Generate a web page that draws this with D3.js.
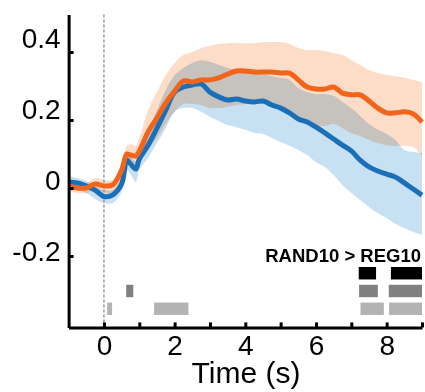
<!DOCTYPE html>
<html lang="en">
  <head>
    <meta charset="UTF-8" />
    <title>RAND10 vs REG10</title>
    <style>
      body { margin: 0; background: #fff; }
      svg { display: block; font-family: "Liberation Sans", Arial, Helvetica, sans-serif; }
      .band { mix-blend-mode: multiply; }
    </style>
  </head>

  <body>
    <main></main>

  <script src="https://d3js.org/d3.v7.min.js"></script>
    <script>

var w = 425;
var h = 392;

// time points (s)
var times = [-1, -0.75, -0.5, -0.25, 0, 0.25, 0.5, 0.65, 0.75, 0.9,
  1, 1.25, 1.5, 1.75, 2, 2.25, 2.5, 2.75, 3, 3.25, 3.5, 3.75, 4, 4.25, 4.5, 4.75,
  5, 5.25, 5.5, 5.75, 6, 6.25, 6.5, 6.75, 7, 7.25, 7.5, 7.75, 8, 8.25, 8.5, 8.75, 9];

// blue series (mean, upper, lower)
var blueMean = [0.018, 0.015, 0.006, -0.006, -0.025, -0.02, 0.012, 0.082, 0.071, 0.056,
  0.085, 0.126, 0.176, 0.229, 0.282, 0.297, 0.303, 0.306, 0.282, 0.268, 0.259, 0.262, 0.256, 0.253, 0.256, 0.244,
  0.235, 0.221, 0.203, 0.194, 0.179, 0.162, 0.144, 0.126, 0.109, 0.082, 0.062, 0.05, 0.041, 0.032, 0.015, -0.003, -0.021];
var blueUpper = [0.035, 0.029, 0.021, 0.006, -0.006, -0.006, 0.032, 0.106, 0.094, 0.079,
  0.115, 0.171, 0.229, 0.288, 0.332, 0.353, 0.368, 0.376, 0.371, 0.362, 0.353, 0.347, 0.341, 0.338, 0.335, 0.329,
  0.324, 0.318, 0.294, 0.282, 0.276, 0.276, 0.271, 0.253, 0.235, 0.212, 0.188, 0.171, 0.159, 0.141, 0.112, 0.106, 0.103];
var blueLower = [0, -0.006, -0.015, -0.032, -0.044, -0.044, -0.012, 0.053, 0.041, 0.018,
  0.053, 0.088, 0.132, 0.176, 0.224, 0.235, 0.235, 0.224, 0.209, 0.197, 0.185, 0.179, 0.171, 0.162, 0.159, 0.147,
  0.135, 0.124, 0.112, 0.097, 0.076, 0.062, 0.038, 0.009, -0.015, -0.035, -0.056, -0.074, -0.088, -0.106, -0.118, -0.129, -0.138];

// orange series (mean, upper, lower)
var orangeMean = [0.006, 0, 0, 0.012, 0.006, 0.009, 0.053, 0.1, 0.097, 0.094,
  0.108, 0.165, 0.206, 0.25, 0.285, 0.315, 0.312, 0.318, 0.318, 0.324, 0.335, 0.344, 0.344, 0.341, 0.341, 0.341,
  0.338, 0.338, 0.318, 0.297, 0.291, 0.291, 0.297, 0.279, 0.274, 0.274, 0.256, 0.235, 0.221, 0.221, 0.224, 0.218, 0.194];
var orangeUpper = [0.021, 0.015, 0.015, 0.029, 0.024, 0.024, 0.074, 0.124, 0.129, 0.124,
  0.147, 0.229, 0.282, 0.332, 0.368, 0.391, 0.4, 0.412, 0.418, 0.424, 0.426, 0.426, 0.426, 0.426, 0.429, 0.429,
  0.429, 0.424, 0.412, 0.406, 0.406, 0.403, 0.397, 0.391, 0.376, 0.362, 0.347, 0.338, 0.332, 0.329, 0.324, 0.318, 0.312];
var orangeLower = [-0.009, -0.015, -0.015, -0.006, -0.012, -0.018, 0.032, 0.071, 0.065, 0.065,
  0.076, 0.112, 0.147, 0.188, 0.224, 0.247, 0.247, 0.244, 0.235, 0.235, 0.238, 0.244, 0.247, 0.247, 0.247, 0.241,
  0.229, 0.218, 0.2, 0.188, 0.182, 0.182, 0.188, 0.176, 0.162, 0.153, 0.141, 0.132, 0.126, 0.124, 0.124, 0.121, 0.094];

// significance bars: [start, end] in s, one list per row
var sigBlack = [[7.21, 7.7], [8.12, 9]];
var sigDark = [[0.63, 0.83], [7.22, 7.75], [8.06, 9]];
var sigLight = [[0.09, 0.23], [1.42, 2.39], [7.26, 7.92], [8.07, 9]];

var xTicks = [0, 1, 2, 3, 4, 5, 6, 7, 8, 9];
var yTicks = [-0.2, 0, 0.2, 0.4];

var svg = d3.select("main").append("svg")
            .attr("width", w)
            .attr("height", h);

var x = d3.scaleLinear().domain([-1, 9]).range([68.6, 422]);
var y = d3.scaleLinear().domain([-0.41, 0.51]).range([327.4, 14.6]);
// the tick labels sit a little off their ticks in the original
var yLab = d3.scaleLinear().domain([-0.2, 0.4]).range([252, 39]);

var pts = times.map(function(t, i) {
  return { t: t, bm: blueMean[i], bu: blueUpper[i], bl: blueLower[i],
           om: orangeMean[i], ou: orangeUpper[i], ol: orangeLower[i] };
});

var bandCurve = d3.curveCatmullRom.alpha(0.5);

var blueArea = d3.area()
                 .x(function(d) { return x(d.t); })
                 .y0(function(d) { return y(d.bl); })
                 .y1(function(d) { return y(d.bu); })
                 .curve(bandCurve);
var orangeArea = d3.area()
                   .x(function(d) { return x(d.t); })
                   .y0(function(d) { return y(d.ol); })
                   .y1(function(d) { return y(d.ou); })
                   .curve(bandCurve);

svg.append("path").datum(pts)
   .attr("class", "band")
   .attr("d", blueArea)
   .attr("fill", "#c8e1f2");
svg.append("path").datum(pts)
   .attr("class", "band")
   .attr("d", orangeArea)
   .attr("fill", "#fddcc8");

// stimulus onset
svg.append("line")
   .attr("x1", x(0)).attr("x2", x(0))
   .attr("y1", y(0.51)).attr("y2", y(-0.41))
   .attr("stroke", "#999")
   .attr("stroke-width", 1.5)
   .attr("stroke-dasharray", "3,2");

var blueLine = d3.line()
                 .x(function(d) { return x(d.t); })
                 .y(function(d) { return y(d.bm); })
                 .curve(bandCurve);
var orangeLine = d3.line()
                   .x(function(d) { return x(d.t); })
                   .y(function(d) { return y(d.om); })
                   .curve(bandCurve);

svg.append("path").datum(pts)
   .attr("d", blueLine)
   .attr("fill", "none")
   .attr("stroke", "#1a6fb8")
   .attr("stroke-width", 5)
   .attr("stroke-linejoin", "round");
svg.append("path").datum(pts)
   .attr("d", orangeLine)
   .attr("fill", "none")
   .attr("stroke", "#f26419")
   .attr("stroke-width", 5)
   .attr("stroke-linejoin", "round");

// significance rows
var rows = [
  { bars: sigBlack, color: "#000000" },
  { bars: sigDark, color: "#808080" },
  { bars: sigLight, color: "#b3b3b3" }
];
var rowY = d3.scaleBand().domain([0, 1, 2]).range([267, 315]).paddingInner(0.3);

rows.forEach(function(r, i) {
  svg.selectAll("rect.row" + i)
     .data(r.bars)
     .enter()
     .append("rect")
     .attr("class", "row" + i)
     .attr("x", function(d) { return x(d[0]); })
     .attr("width", function(d) { return x(d[1]) - x(d[0]); })
     .attr("y", rowY(i))
     .attr("height", rowY.bandwidth())
     .attr("fill", r.color);
});

svg.append("text")
   .attr("x", 421)
   .attr("y", 262)
   .attr("text-anchor", "end")
   .attr("font-weight", "bold")
   .attr("font-size", "18.5px")
   .text("RAND10 > REG10");

// axes
var xAxis = d3.axisBottom(x)
              .tickValues(xTicks)
              .tickSizeInner(-5)
              .tickSizeOuter(0)
              .tickPadding(8)
              .tickFormat(function(d) { return d % 2 === 0 ? d : ""; });
var gx = svg.append("g")
            .attr("transform", "translate(0," + y(-0.41) + ")")
            .call(xAxis);

var yAxis = d3.axisLeft(y)
              .tickValues(yTicks)
              .tickSizeInner(-5)
              .tickSizeOuter(0)
              .tickPadding(8)
              .tickFormat(function(d) { return d; });
var gy = svg.append("g")
            .attr("transform", "translate(" + x(-1) + ",0)")
            .call(yAxis);
gy.selectAll(".tick text")
  .attr("transform", function(d) { return "translate(0," + (yLab(d) - y(d)) + ")"; });

[gx, gy].forEach(function(g) {
  g.select(".domain").attr("stroke", "#000").attr("stroke-width", 3);
  g.selectAll(".tick line").attr("stroke", "#000").attr("stroke-width", 3);
  g.selectAll(".tick text")
   .attr("fill", "#000")
   .style("font-size", "28px")
   .style("font-family", "'Liberation Sans', Arial, sans-serif");
});

svg.append("text")
   .attr("x", 246)
   .attr("y", 383)
   .attr("text-anchor", "middle")
   .style("font-size", "30px")
   .text("Time (s)");

</script>

  </body>
</html>
